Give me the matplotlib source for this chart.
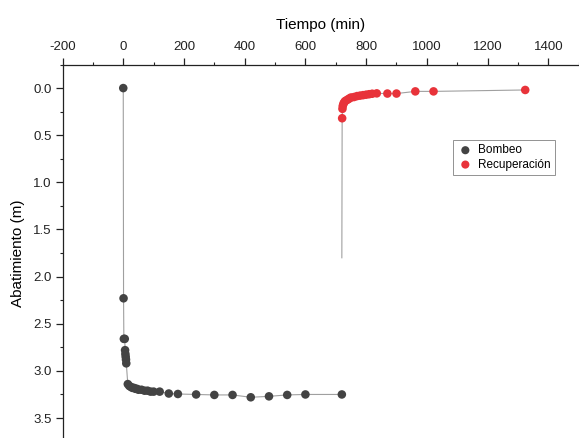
import matplotlib
matplotlib.use("Agg")
import matplotlib.pyplot as plt
from matplotlib.ticker import MultipleLocator

plt.rcParams['font.family'] = ['Liberation Sans', 'DejaVu Sans']

# Bombeo (pumping) data
t_bombeo = [0, 1, 2, 5, 6, 7, 8, 9, 10, 15, 20, 25, 30, 35, 40, 45, 50, 60, 70,
            80, 90, 100, 120, 150, 180, 240, 300, 360, 420, 480, 540, 600, 720]
s_bombeo = [0.0, 2.23, 2.66, 2.66, 2.78, 2.82, 2.85, 2.88, 2.92, 3.14, 3.16, 3.17,
            3.18, 3.18, 3.19, 3.19, 3.20, 3.20, 3.21, 3.21, 3.22, 3.22, 3.22, 3.24,
            3.245, 3.25, 3.255, 3.255, 3.28, 3.27, 3.255, 3.25, 3.25]

# Recuperación (recovery) data; first point is the line start (no marker)
t_recup = [720, 721, 722, 723, 725, 727, 730, 735, 740, 745, 750, 760, 770, 780,
           790, 800, 810, 820, 835, 870, 900, 962, 1022, 1324]
s_recup = [1.80, 0.32, 0.22, 0.19, 0.17, 0.155, 0.14, 0.13, 0.12, 0.11, 0.10, 0.095,
           0.085, 0.08, 0.075, 0.07, 0.065, 0.06, 0.056, 0.058, 0.058, 0.035, 0.035, 0.02]

xticks = [-200, 0, 200, 400, 600, 800, 1000, 1200, 1400]
yticks = [0.0, 0.5, 1.0, 1.5, 2.0, 2.5, 3.0, 3.5]

fig = plt.figure(figsize=(5.79, 4.38), dpi=100)
ax = fig.add_axes([0.108, -0.0082, 0.8914, 0.8609])

line_col = '#a0a0a0'
ax.plot(t_bombeo, s_bombeo, color=line_col, lw=0.8, zorder=1)
ax.plot(t_recup, s_recup, color=line_col, lw=0.8, zorder=1)
ax.scatter(t_bombeo, s_bombeo, s=38, color='#434343', edgecolors='none', zorder=2, label='Bombeo')
ax.scatter(t_recup[1:], s_recup[1:], s=38, color='#e8333a', edgecolors='none', zorder=2, label='Recuperación')

ax.set_xlim(-200, 1500)
ax.set_ylim(3.75, -0.25)

ax.xaxis.tick_top()
ax.xaxis.set_label_position('top')
ax.set_xticks(xticks)
ax.set_xticklabels([str(v) for v in xticks])
ax.set_yticks(yticks)
ax.set_yticklabels([f"{v:.1f}" for v in yticks])
ax.xaxis.set_minor_locator(MultipleLocator(100))
ax.yaxis.set_minor_locator(MultipleLocator(0.25))
ax.tick_params(which='major', direction='out', length=5, width=0.9, labelsize=9.5, colors='#222222', pad=3)
ax.tick_params(which='minor', direction='out', length=2.5, width=0.8, colors='#222222')
ax.tick_params(axis='x', which='both', top=True, bottom=False)

for sp in ['right', 'bottom']:
    ax.spines[sp].set_visible(False)
for sp in ['top', 'left']:
    ax.spines[sp].set_linewidth(0.9)
    ax.spines[sp].set_color('#222222')

ax.set_xlabel('Tiempo (min)', fontsize=11, labelpad=9)
ax.set_ylabel('Abatimiento (m)', fontsize=11, labelpad=6)

leg = ax.legend(loc='upper left', bbox_to_anchor=(0.745, 0.815), fontsize=8.5,
                frameon=True, fancybox=False, edgecolor='#777777',
                handletextpad=0.4, borderpad=0.35, labelspacing=0.2,
                handlelength=1.4, markerscale=0.95)
leg.get_frame().set_linewidth(0.7)

fig.savefig('out.png', dpi=100)
